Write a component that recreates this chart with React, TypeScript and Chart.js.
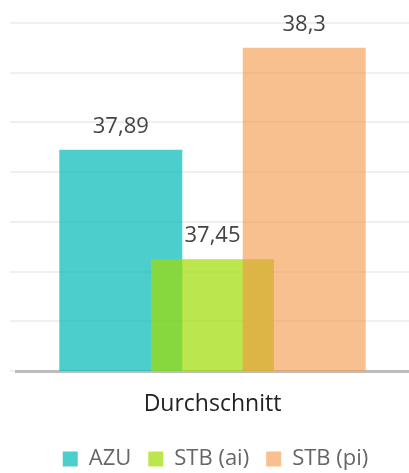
import React, { useEffect, useRef } from "react";
import { Chart, registerables } from "chart.js";

Chart.register(...registerables);

const categories = ["Durchschnitt"];
const seriesNames = ["AZU", "STB (ai)", "STB (pi)"];
const azuValues = [37.89];
const stbAiValues = [37.45];
const stbPiValues = [38.3];
const seriesColors = [
  "rgba(0, 185, 183, 0.7)",
  "rgba(158, 219, 2, 0.7)",
  "rgba(245, 150, 68, 0.6)",
];
const yMin = 37.0;
const yMax = 38.4;
const yStep = 0.2;

const FONT = "'Open Sans', 'Noto Sans', sans-serif";

// Draw datasets in index order (later series on top), then value labels.
const orderedDraw = {
  id: "orderedDraw",
  afterLayout(chart: any) {
    if (chart.legend) chart.legend.left += 12;
  },
  beforeDatasetsDraw(chart: any) {
    const ctx = chart.ctx;
    const a = chart.chartArea;
    ctx.save();
    ctx.beginPath();
    ctx.rect(a.left, a.top, a.right - a.left, a.bottom - a.top);
    ctx.clip();
    const n = chart.data.datasets.length;
    for (let i = 0; i < n; i++) {
      const meta = chart.getDatasetMeta(i);
      if (!meta.hidden) meta.controller.draw();
    }
    ctx.restore();

    ctx.save();
    ctx.font = `22px ${FONT}`;
    ctx.fillStyle = "#444444";
    ctx.textAlign = "center";
    ctx.textBaseline = "alphabetic";
    chart.data.datasets.forEach((ds: any, di: number) => {
      const meta = chart.getDatasetMeta(di);
      meta.data.forEach((el: any, i: number) => {
        const v = ds.data[i];
        const txt = Number(v).toLocaleString("de-DE");
        ctx.fillText(txt, el.x, el.y - 17);
      });
    });
    ctx.restore();
    return false;
  },
};

export default function App() {
  const ref = useRef<HTMLCanvasElement | null>(null);
  useEffect(() => {
    if (!ref.current) return;
    const all = [azuValues, stbAiValues, stbPiValues];
    const chart = new Chart(ref.current, {
      type: "bar",
      data: {
        labels: categories,
        datasets: seriesNames.map((name, i) => ({
          label: name,
          data: all[i],
          backgroundColor: seriesColors[i],
          borderWidth: 0,
          categoryPercentage: 0.7,
          barPercentage: 1.341,
        })),
      },
      options: {
        responsive: false,
        animation: false,
        layout: { padding: { left: 10, right: 0, top: 23, bottom: 0 } },
        scales: {
          x: {
            grid: { display: false, drawTicks: false },
            border: { display: true, color: "#bdbdbd", width: 3 },
            ticks: {
              padding: 20,
              color: "#222222",
              font: { family: FONT, size: 23 },
            },
            afterFit: (scale: any) => {
              scale.height = 60;
            },
          },
          y: {
            min: yMin,
            max: yMax,
            ticks: { stepSize: yStep, display: false },
            border: { display: false },
            grid: {
              color: "rgba(0,0,0,0.06)",
              lineWidth: 2,
              drawTicks: true,
              tickLength: 6,
            },
          },
        },
        plugins: {
          tooltip: { enabled: false },
          legend: {
            position: "bottom",
            maxHeight: 42,
            labels: {
              boxWidth: 15,
              boxHeight: 15,
              padding: 17,
              color: "#666666",
              font: { family: FONT, size: 22 },
            },
          },
        },
      },
      plugins: [orderedDraw],
    });
    return () => chart.destroy();
  }, []);
  return (
    <div style={{ position: "absolute", left: 0, top: 0, width: 409, height: 473 }}>
      <canvas ref={ref} width={409} height={473} style={{ display: "block" }} />
    </div>
  );
}
